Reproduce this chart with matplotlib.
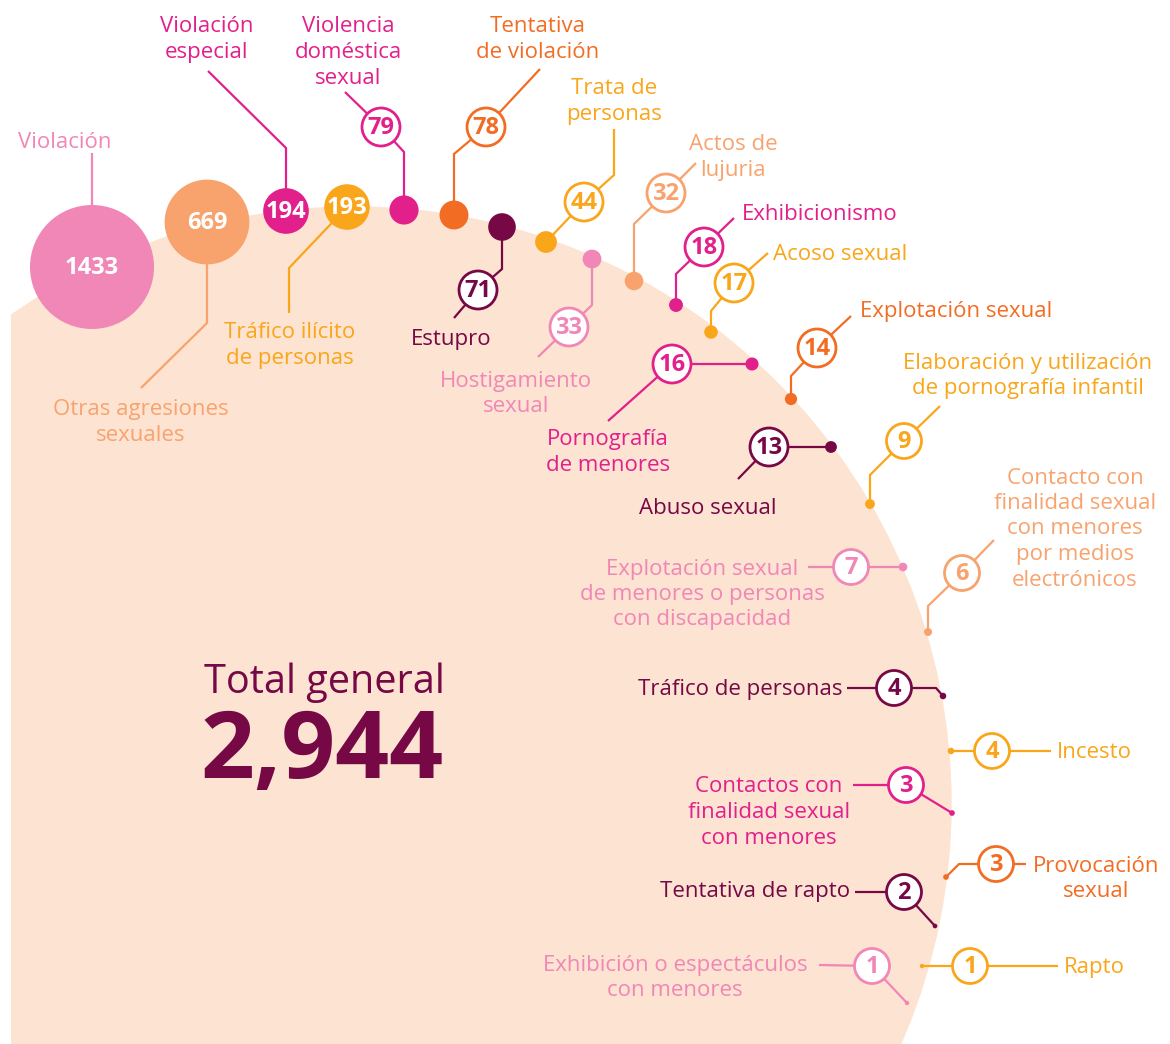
import numpy as np
import matplotlib.pyplot as plt
from matplotlib.patches import Circle, Rectangle

plt.rcParams['font.family'] = ['Open Sans', 'DejaVu Sans']

# data
names = [
    ["Violación"],
    ["Otras agresiones", "sexuales"],
    ["Violación", "especial"],
    ["Tráfico ilícito", "de personas"],
    ["Violencia", "doméstica", "sexual"],
    ["Tentativa", "de violación"],
    ["Estupro"],
    ["Trata de", "personas"],
    ["Hostigamiento", "sexual"],
    ["Actos de", "lujuria"],
    ["Exhibicionismo"],
    ["Acoso sexual"],
    ["Pornografía", "de menores"],
    ["Explotación sexual"],
    ["Abuso sexual"],
    ["Elaboración y utilización", "de pornografía infantil"],
    ["Explotación sexual", "de menores o personas", "con discapacidad"],
    ["Contacto con", "finalidad sexual", "con menores", "por medios", "electrónicos"],
    ["Tráfico de personas"],
    ["Incesto"],
    ["Contactos con", "finalidad sexual", "con menores"],
    ["Provocación", "sexual"],
    ["Tentativa de rapto"],
    ["Exhibición o espectáculos", "con menores"],
    ["Rapto"],
]
values = [1433, 669, 194, 193, 79, 78, 71, 44, 33, 32, 18, 17, 16, 14, 13,
          9, 7, 6, 4, 4, 3, 3, 2, 1, 1]
total = 2944

# styles
PINK, SALMON, MAGENTA, YELLOW = "#F087B7", "#F8A36E", "#E2208C", "#F9A61B"
ORANGE, MAROON = "#F26D23", "#750845"
PEACH = "#FDE3D1"
colors = [PINK, SALMON, MAGENTA, YELLOW, MAGENTA, ORANGE, MAROON, YELLOW, PINK,
          SALMON, MAGENTA, YELLOW, MAGENTA, ORANGE, MAROON, YELLOW, PINK, SALMON,
          MAROON, YELLOW, MAGENTA, ORANGE, MAROON, PINK, YELLOW]

# layout (pixels): dot centre, leader path (through ring centre), ring, label
dots = [(92, 267), (207, 222), (286, 211), (347, 207), (404, 210), (454, 215),
        (502, 227), (546, 242), (592, 259), (634, 281), (676, 305), (711, 332),
        (752, 364), (791, 399), (831, 447), (870, 504), (903, 567), (928, 632),
        (943, 696), (951, 751), (952, 813), (946, 877), (935, 926), (907, 1003),
        (922, 966)]
rings = [None, None, None, None, (381, 127), (486, 127), (478, 290), (584, 202),
         (569, 327), (666, 193), (704, 247), (734, 283), (672, 364), (817, 348),
         (769, 447), (904, 441), (851, 567), (962, 573), (894, 688), (992, 751),
         (906, 785), (996, 864), (904, 892), (872, 966), (970, 966)]
paths = [
    [(92, 153)],
    [(207, 323), (141, 388)],
    [(286, 148), (208, 71)],
    [(289, 268), (289, 313)],
    [(404, 152), (381, 127), (345, 92)],
    [(454, 154), (486, 127), (540, 69)],
    [(502, 269), (478, 290), (454, 318)],
    [(584, 202), (614, 175), (614, 129)],
    [(592, 305), (569, 327), (538, 357)],
    [(634, 224), (666, 193), (696, 163)],
    [(676, 274), (704, 247), (734, 218)],
    [(711, 311), (734, 283), (768, 253)],
    [(672, 364), (608, 421)],
    [(791, 376), (817, 348), (851, 316)],
    [(769, 447), (738, 479)],
    [(870, 475), (904, 441), (940, 406)],
    [(851, 567), (808, 567)],
    [(928, 606), (962, 573), (994, 540)],
    [(936, 688), (894, 688), (847, 688)],
    [(992, 751), (1051, 751)],
    [(906, 785), (853, 785)],
    [(959, 864), (996, 864), (1026, 864)],
    [(904, 892), (855, 892)],
    [(872, 966), (819, 965)],
    [(970, 966), (1058, 966)],
]
labels = [(65, 141, "center"), (141, 408, "center"), (207, 25, "center"),
          (290, 331, "center"), (348, 25, "center"), (538, 25, "center"),
          (451, 338, "center"), (614, 87, "center"), (516, 379, "center"),
          (733, 143, "center"), (742, 212, "left"), (773, 252, "left"),
          (608, 438, "center"), (860, 310, "left"), (708, 507, "center"),
          (1028, 361, "center"), (702, 567, "center"), (1075, 476, "center"),
          (843, 688, "right"), (1057, 751, "left"), (769, 785, "center"),
          (1096, 864, "center"), (850, 890, "right"), (675, 963, "center"),
          (1064, 966, "left")]

fig = plt.figure(figsize=(11.7, 10.44), dpi=100)
ax = fig.add_axes([0, 0, 1, 1])
ax.set_xlim(0, 1170)
ax.set_ylim(1044, 0)
ax.axis("off")

# background disc, cut on the left
disc = Circle((354, 804), 597, color=PEACH, zorder=0)
ax.add_patch(disc)
disc.set_clip_path(Rectangle((11, 0), 1200, 1100, transform=ax.transData))

k = 62 / np.sqrt(1433)
for i, v in enumerate(values):
    c = colors[i]
    pts = np.array([dots[i]] + paths[i])
    ax.plot(pts[:, 0], pts[:, 1], color=c, lw=1.6, zorder=2,
            solid_capstyle="butt", solid_joinstyle="miter")
    r = max(k * np.sqrt(v), 2.2)
    ax.add_patch(Circle(dots[i], r, color=c, zorder=3, lw=0))
    if rings[i] is None:
        ax.text(dots[i][0], dots[i][1] + 1, str(v), color="white", fontsize=17,
                fontweight="bold", ha="center", va="center", zorder=4)
    else:
        rr = 19 if v >= 10 else 17.5
        ax.add_patch(Circle(rings[i], rr, facecolor="white", edgecolor=c,
                            lw=2, zorder=4))
        ax.text(rings[i][0], rings[i][1] + 1, str(v), color=c, fontsize=17,
                fontweight="bold", ha="center", va="center", zorder=5)
    lx, ly, ha = labels[i]
    for j, line in enumerate(names[i]):
        ax.text(lx, ly + 2 + j * 25.5, line, color=c, fontsize=16, ha=ha,
                va="center", zorder=5)

ax.text(204, 683, "Total general", color=MAROON, fontsize=28.5, ha="left",
        va="center", zorder=5)
ax.text(200, 754, f"{total:,}", color=MAROON, fontsize=68, fontweight="bold",
        ha="left", va="center", zorder=5)

fig.savefig("out.png", dpi=100)
